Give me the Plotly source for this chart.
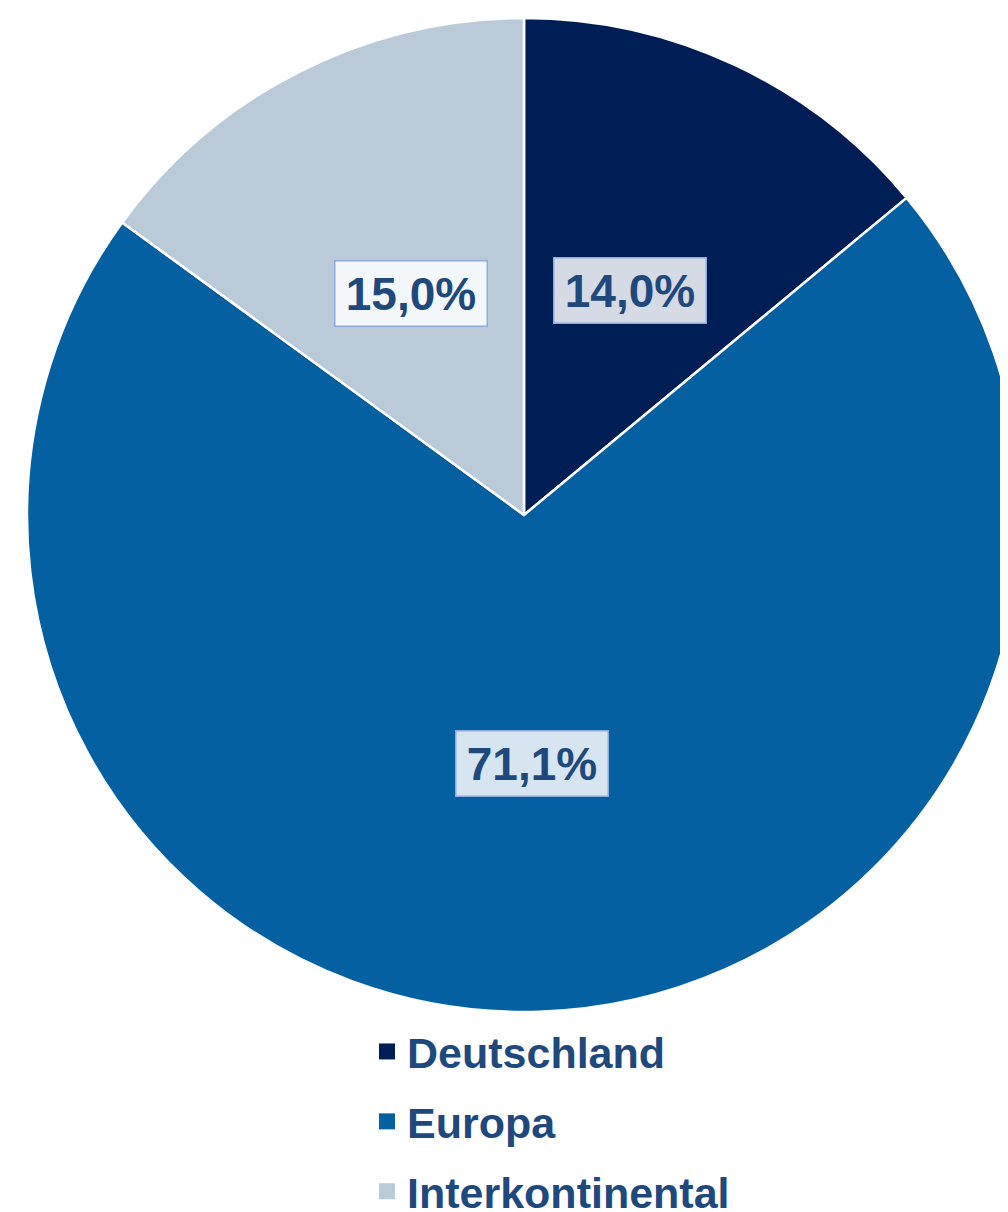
import math
import plotly.graph_objects as go

categories = ["Deutschland", "Europa", "Interkontinental"]
values = [14.0, 71.1, 15.0]
value_labels = ["14,0%", "71,1%", "15,0%"]
colors = ["#001E56", "#0460A1", "#BBCAD9"]

# figure is offset by the page's 8px body margin; the window crops the rest
W, H = 1022, 1240
cx, cy, R = 516, 507, 497  # pixel geometry of the pie inside the figure

fig = go.Figure()
fig.add_trace(go.Pie(
    labels=categories, values=values, sort=False, direction="clockwise",
    rotation=0, marker=dict(colors=colors, line=dict(color="white", width=2.5)),
    textinfo="none", hoverinfo="label+percent", showlegend=False,
    domain=dict(x=[(cx - R) / W, (cx + R) / W], y=[(H - cy - R) / H, (H - cy + R) / H]),
))

# legend entries
for cat, col in zip(categories, colors):
    fig.add_trace(go.Scatter(
        x=[None], y=[None], mode="markers", name=cat, legendgroup=cat,
        marker=dict(symbol="square", size=18, color=col),
    ))

# data labels at half radius, mid-angle of each slice
total = sum(values)
cum = 0.0
txtfont = dict(family="Liberation Sans, Arial, sans-serif", size=46, color="#1F497D", weight="bold")
for v, lab in zip(values, value_labels):
    mid = (cum + v / 2) / total * 2 * math.pi
    cum += v
    px = cx + 0.5 * R * math.sin(mid)
    py = cy - 0.5 * R * math.cos(mid)
    fig.add_annotation(
        x=px / W, y=1 - py / H, xref="paper", yref="paper", text=lab, showarrow=False,
        xanchor="center", yanchor="middle",
        font=txtfont, bgcolor="rgba(255,255,255,0.84)", bordercolor="#8FAADC",
        borderwidth=1.5, borderpad=5, width=141, height=54,
    )

fig.update_layout(
    width=W, height=H, margin=dict(l=0, r=0, t=0, b=0),
    paper_bgcolor="white", plot_bgcolor="white",
    xaxis=dict(visible=False), yaxis=dict(visible=False),
    legend=dict(
        x=359 / W, y=1 - 1009 / H, xanchor="left", yanchor="top",
        font=dict(family="Liberation Sans, Arial, sans-serif", size=43, color="#1F497D", weight="bold"),
        tracegroupgap=11, bgcolor="rgba(0,0,0,0)",
    ),
)

fig.write_html("out.html")
